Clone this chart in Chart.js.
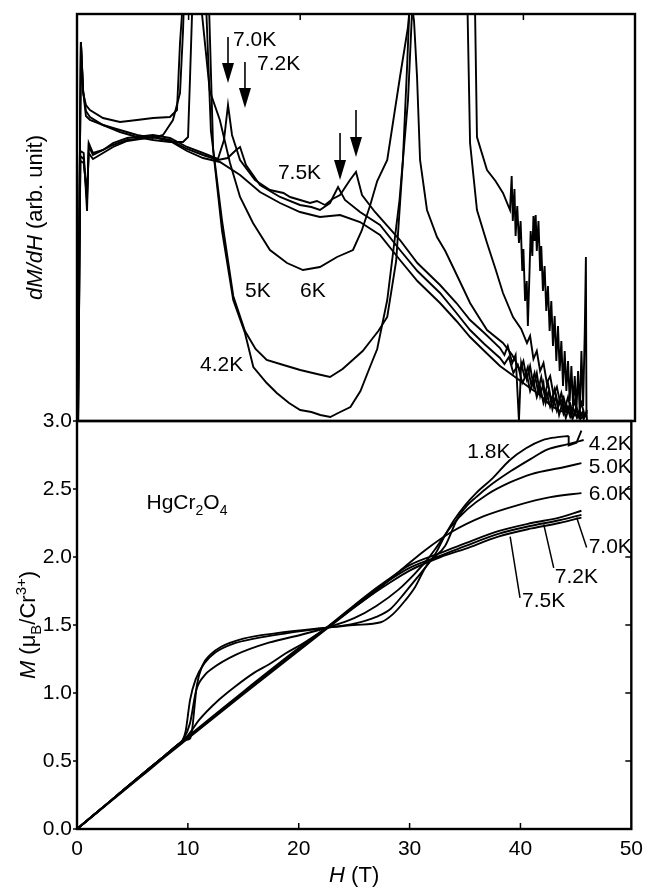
<!DOCTYPE html>
<html>
<head>
<meta charset="utf-8">
<script src="https://cdn.jsdelivr.net/npm/chart.js@4.4.0/dist/chart.umd.min.js"></script>
<style>
  html, body { margin: 0; padding: 0; background: #fff; }
  #wrap { position: relative; width: 651px; height: 892px; }
  #wrap canvas { position: absolute; left: 0; top: 0; }
</style>
</head>
<body>
<div id="wrap">
  <canvas id="dmdh" width="651" height="892"></canvas>
  <canvas id="mag" width="651" height="892"></canvas>
</div>
<script>
const FONT = '"Liberation Sans", Arial, Helvetica, sans-serif';

// ---- top panel: dM/dH (arb. unit) vs H (T) ----
const dH42 = [0.05,0.35,0.55,0.8,1.16,2.33,3.85,5.38,6.81,8.33,9.5,9.95,10.13,10.3,10.5,11.6,11.85,12.2,13.0,14.0,15.05,15.8,17.0,17.9,19.0,20.0,21.0,21.8,22.7,23.4,24.5,25.4,26.25,26.9,27.8,28.9,29.66,30.0,30.3,34.8,35.0,35.22,35.84,36.74,37.5,38.17,39.07,39.8,40.32,40.6,40.9,41.2,41.5,41.8,42.1,42.4,42.7,43.0,43.3,43.6,43.9,44.2,44.5,44.8,45.1,45.5];
const dV42 = [0,379,330,305,301,296,289,284,281,279,279,284,344,404,460,460,407,271,190,121,88,54,38,28,18,11,9,6,4,8,14,30,54,72,121,221,321,404,460,460,407,278,211,178,152,128,104,92,78,85,62,70,50,58,38,45,26,34,18,24,10,17,5,12,2,6];

const dH50 = [0.05,0.35,0.55,0.8,1.16,2.33,3.85,5.38,6.81,7.71,8.6,9.23,9.5,9.7,11.4,11.6,12.0,13.0,14.0,15.05,16.0,17.0,18.5,20.0,21.5,22.67,23.8,24.7,25.6,26.3,27.0,27.8,28.6,29.2,29.6,29.95,35.6,35.84,36.74,37.5,38.17,38.8,38.95,39.05,39.2,39.3,39.45,39.6,39.75,39.9,40.0,40.15,40.3,40.4,40.55,40.65,40.8,40.9,41.0,41.1,41.2,41.35,41.5,41.6,41.75,41.9,42.05,42.2,42.35,42.5,42.65,42.8,42.95,43.1,43.25,43.4,43.55,43.7,43.85,44.0,44.15,44.3,44.45,44.6,44.75,44.9,45.05,45.2,45.35,45.5,45.6,45.65,45.7];
const dV50 = [0,379,330,310,304,296,291,286,283,286,301,328,390,460,460,407,290,200,125,90,72,61,56,51,47,44,52,61,70,80,90,104,160,260,360,460,460,284,251,240,228,211,245,200,232,185,215,178,200,150,172,120,140,95,150,190,165,205,180,206,170,200,150,175,130,155,110,135,90,120,75,105,60,95,50,80,35,70,30,60,20,55,15,45,10,50,8,70,15,90,164,10,0];

const dH60 = [0.05,0.35,0.55,0.8,1.16,2.33,3.85,5.38,6.81,8.33,8.96,9.23,9.41,9.6,10.9,11.2,11.9,12.8,13.71,14.61,15.77,17.29,18.82,20.25,21.77,23.3,24.73,25.5,26.25,26.9,27.8,28.94,29.66,29.9,30.2,30.47,30.74,31.36,32.26,33.0,33.69,34.5,35.22,36.0,36.74,38.17,39.0,39.7,40.0,40.3,40.6,40.9,41.2,41.5,41.8,42.0,42.3,42.6,42.9,43.2,43.5,43.8,44.1,44.4,44.7,45.0,45.3,45.5];
const dV60 = [0,379,328,316,311,303,299,301,303,304,311,378,407,460,460,407,330,301,258,224,198,171,158,151,154,164,171,190,215,240,261,344,394,425,400,344,261,211,184,170,154,135,118,104,91,78,66,51,60,42,55,35,48,25,38,18,30,12,25,6,18,3,14,2,12,3,9,4];

const dH70 = [0.1,0.3,0.6,0.9,1.05,1.43,2.33,3.23,4.5,6.81,8.33,9.86,11.29,12.63,13.17,13.53,13.89,14.61,15.95,17.29,18.5,19.09,20.0,20.88,21.5,22.22,22.9,23.57,24.46,25.0,25.54,26.7,28.94,30.5,32.53,34.0,35.22,36.5,37.9,38.3,38.6,39.0,39.3,39.6,39.8,40.1,40.4,40.7,41.0,41.3,41.6,41.9,42.2,42.5,42.8,43.1,43.4,43.7,44.0,44.3,44.6,44.9,45.2,45.5,45.7];
const dV70 = [0,270,268,210,278,268,271,278,283,286,283,274,268,262,281,316,286,261,241,231,228,224,221,218,220,216,222,226,241,249,226,209,181,158,136,118,101,88,73,66,75,58,66,0,58,44,54,36,48,30,44,26,38,20,32,16,28,12,24,8,20,6,18,5,11];

const dH72 = [0.1,0.3,0.6,0.9,1.05,1.43,3.23,4.5,6.81,8.33,9.86,11.29,12.63,13.5,14.25,14.61,15.14,16.4,18.19,19.98,21.0,21.77,22.67,23.39,24.01,25.36,27.15,28.94,30.5,32.53,34.0,35.22,36.5,37.9,38.3,38.7,39.1,39.5,39.9,40.3,40.6,40.9,41.2,41.5,41.8,42.1,42.4,42.7,43.0,43.3,43.6,43.9,44.2,44.5,44.8,45.1,45.4,45.7];
const dV72 = [0,265,262,220,275,266,276,281,284,281,272,266,261,263,271,274,256,236,224,216,214,211,218,234,221,209,196,171,150,128,108,91,77,63,57,64,48,56,38,47,30,40,24,34,18,28,14,22,10,20,7,15,4,12,3,9,2,9];

const dH75 = [0.1,0.3,0.6,0.9,1.05,1.43,3.23,4.5,6.81,8.33,9.86,11.29,12.81,14.61,16.4,18.19,19.98,21.77,23.57,25.36,27.15,28.94,30.5,32.53,34.0,35.22,36.5,37.9,39.5,40.59,41.5,42.38,43.28,44.0,44.8,45.7];
const dV75 = [0,260,258,228,268,262,274,280,284,280,270,263,259,246,229,218,209,204,206,199,186,161,140,118,100,84,70,55,42,33,26,16,10,9,6,5];

// curve labels and arrows in the top panel (H, arb. unit)
const topLabels = ['7.0K', '7.2K', '7.5K', '5K', '6K', '4.2K'];
const topLabelH = [13.98, 16.13, 18.0, 15.05, 19.98, 11.02];
const topLabelV = [375, 351, 242, 124, 124, 50];
const arrowH = [13.53, 15.05, 23.57, 25.0];
const arrowTail = [384, 359, 288, 311];
const arrowTip = [338, 313, 241, 264];

// ---- bottom panel: M (muB/Cr3+) vs H (T) ----
const mH18 = [0,3,6,8,9,9.8,10.2,10.4,10.6,10.8,11.3,12,13,15,18,22.5,25,27.4,28.5,29.6,30.5,31.4,32.3,33.2,34,35,36,37.5,39,40.5,42,43.2,44.35];
const mM18 = [0,0.205,0.41,0.545,0.61,0.655,0.665,0.74,0.90,1.05,1.20,1.28,1.34,1.40,1.44,1.48,1.50,1.52,1.58,1.68,1.78,1.92,2.02,2.16,2.27,2.38,2.47,2.58,2.71,2.80,2.86,2.88,2.89];
const tailH18 = [44.35, 44.35, 45.05, 45.5];
const tailM18 = [2.89, 2.82, 2.84, 2.93];

const mH42 = [0,3,6,8,9,9.5,9.8,10.2,10.7,11.5,12.5,14,16,19,22.5,25,27,28.3,29.6,31,32,33.2,34.3,35.2,36,37,39.1,40.9,42.4,44.3,45.7];
const mM42 = [0,0.205,0.41,0.545,0.615,0.65,0.72,0.95,1.10,1.22,1.30,1.36,1.40,1.44,1.48,1.51,1.56,1.62,1.74,1.88,1.98,2.08,2.28,2.38,2.44,2.51,2.63,2.72,2.79,2.83,2.86];

const mH50 = [0,3,6,8,9,9.6,10.2,10.75,11.5,12.2,14.3,17.3,20.3,22.5,25,27,29,30.5,31.6,32.5,33.7,35.2,37,39.1,41,43.9,45.5];
const mM50 = [0,0.205,0.41,0.545,0.615,0.66,0.78,1.02,1.13,1.18,1.28,1.37,1.43,1.48,1.55,1.64,1.76,1.88,1.98,2.08,2.22,2.35,2.46,2.55,2.61,2.66,2.69];

const mH60 = [0,3,6,8,9,9.8,10.3,11,12.8,14.3,16,17.3,18.8,20.3,22.5,25,27,28.3,29.6,31.4,33.7,36.7,39.7,42.7,45.5];
const mM60 = [0,0.205,0.41,0.545,0.615,0.67,0.72,0.80,0.95,1.05,1.15,1.21,1.29,1.36,1.48,1.63,1.75,1.84,1.93,2.05,2.18,2.30,2.38,2.44,2.47];

const mH7x = [0,3,6,8,10,15,20,22.5,26,28,30,32.8,35,38,41,43.5,45.5];
const mM70 = [0,0.205,0.41,0.545,0.68,1.01,1.33,1.48,1.71,1.83,1.94,2.03,2.10,2.19,2.25,2.29,2.34];
const mM72 = [0,0.203,0.405,0.54,0.67,1.0,1.32,1.475,1.70,1.82,1.92,2.01,2.08,2.17,2.23,2.27,2.31];
const mM75 = [0,0.2,0.4,0.535,0.665,0.99,1.31,1.47,1.69,1.80,1.90,2.00,2.06,2.15,2.21,2.25,2.29];

const botLabels = ['1.8K', '4.2K', '5.0K', '6.0K', '7.0K', '7.2K', '7.5K'];
const botLabelH = [35.2, 46.15, 46.15, 46.15, 46.15, 43.1, 40.14];
const botLabelM = [2.73, 2.79, 2.62, 2.42, 2.03, 1.81, 1.63];
// leader lines from 7.x curves to their labels
const leadH1 = [45.07, 42.1, 39.07], leadM1 = [2.29, 2.24, 2.15];
const leadH2 = [45.97, 43.0, 39.96], leadM2 = [2.07, 1.92, 1.70];

const hTicks = [0, 10, 20, 30, 40, 50];
const mTicks = [0, 0.5, 1.0, 1.5, 2.0, 2.5, 3.0];

function pts(xs, ys) {
  return xs.map((x, i) => ({ x: x, y: ys[i] }));
}

function line(xs, ys, smooth) {
  return {
    data: pts(xs, ys),
    borderColor: '#000',
    borderWidth: 1.9,
    pointRadius: 0,
    fill: false,
    tension: 0,
    cubicInterpolationMode: smooth ? 'monotone' : 'default'
  };
}

// draws runs of text with italic / sub / sup parts
function richText(ctx, runs, x, y, size, align) {
  let w = 0;
  const parts = runs.map(r => {
    const small = r.s === 'sub' || r.s === 'sup';
    const f = (r.i ? 'italic ' : '') + (small ? Math.round(size * 0.68) : size) + 'px ' + FONT;
    ctx.font = f;
    const pw = ctx.measureText(r.t).width;
    w += pw;
    return { t: r.t, f: f, pw: pw, dy: r.s === 'sub' ? size * 0.28 : r.s === 'sup' ? -size * 0.42 : 0 };
  });
  let cx = align === 'center' ? x - w / 2 : x;
  ctx.textAlign = 'left';
  ctx.textBaseline = 'alphabetic';
  parts.forEach(p => {
    ctx.font = p.f;
    ctx.fillText(p.t, cx, y + p.dy);
    cx += p.pw;
  });
}

const framePlugin = {
  id: 'frame',
  afterDatasetsDraw(chart, args, opts) {
    const { ctx, chartArea: a } = chart;
    const xs = chart.scales.x, ys = chart.scales.y;
    ctx.save();
    ctx.strokeStyle = '#000';
    ctx.lineWidth = 2.4;
    ctx.strokeRect(a.left, a.top, a.right - a.left, a.bottom - a.top);
    ctx.lineWidth = 1.5;
    ctx.beginPath();
    (opts.top || []).forEach(v => {
      const x = xs.getPixelForValue(v);
      ctx.moveTo(x, a.top); ctx.lineTo(x, a.top + 6);
    });
    (opts.bottom || []).forEach(v => {
      const x = xs.getPixelForValue(v);
      ctx.moveTo(x, a.bottom); ctx.lineTo(x, a.bottom - 6);
    });
    (opts.right || []).forEach(v => {
      const y = ys.getPixelForValue(v);
      ctx.moveTo(a.right, y); ctx.lineTo(a.right - 6, y);
    });
    (opts.left || []).forEach(v => {
      const y = ys.getPixelForValue(v);
      ctx.moveTo(a.left, y); ctx.lineTo(a.left - 4, y);
    });
    ctx.stroke();
    ctx.restore();
  }
};

const topNotes = {
  id: 'topNotes',
  afterDraw(chart) {
    const { ctx } = chart;
    const xs = chart.scales.x, ys = chart.scales.y;
    ctx.save();
    ctx.fillStyle = '#000';
    ctx.strokeStyle = '#000';
    ctx.font = '21px ' + FONT;
    ctx.textAlign = 'left';
    ctx.textBaseline = 'alphabetic';
    topLabels.forEach((t, i) => {
      ctx.fillText(t, xs.getPixelForValue(topLabelH[i]), ys.getPixelForValue(topLabelV[i]));
    });
    arrowH.forEach((h, i) => {
      const x = xs.getPixelForValue(h);
      const y0 = ys.getPixelForValue(arrowTail[i]);
      const y1 = ys.getPixelForValue(arrowTip[i]);
      ctx.lineWidth = 1.6;
      ctx.beginPath();
      ctx.moveTo(x, y0); ctx.lineTo(x, y1 - 18);
      ctx.stroke();
      ctx.beginPath();
      ctx.moveTo(x - 6, y1 - 20); ctx.lineTo(x + 6, y1 - 20); ctx.lineTo(x, y1);
      ctx.closePath();
      ctx.fill();
    });
    // y title
    ctx.translate(42, (chart.chartArea.top + chart.chartArea.bottom) / 2);
    ctx.rotate(-Math.PI / 2);
    richText(ctx, [{ t: 'dM/dH', i: true }, { t: ' (arb. unit)' }], 0, 0, 22, 'center');
    ctx.restore();
  }
};

const botNotes = {
  id: 'botNotes',
  afterDraw(chart) {
    const { ctx, chartArea: a } = chart;
    const xs = chart.scales.x, ys = chart.scales.y;
    ctx.save();
    ctx.fillStyle = '#000';
    ctx.strokeStyle = '#000';
    ctx.font = '21px ' + FONT;
    ctx.textAlign = 'left';
    ctx.textBaseline = 'alphabetic';
    botLabels.forEach((t, i) => {
      ctx.fillText(t, xs.getPixelForValue(botLabelH[i]), ys.getPixelForValue(botLabelM[i]));
    });
    ctx.lineWidth = 1.5;
    ctx.beginPath();
    leadH1.forEach((h, i) => {
      ctx.moveTo(xs.getPixelForValue(h), ys.getPixelForValue(leadM1[i]));
      ctx.lineTo(xs.getPixelForValue(leadH2[i]), ys.getPixelForValue(leadM2[i]));
    });
    ctx.stroke();
    richText(ctx, [{ t: 'HgCr' }, { t: '2', s: 'sub' }, { t: 'O' }, { t: '4', s: 'sub' }],
      xs.getPixelForValue(6.27), ys.getPixelForValue(2.35), 21, 'left');
    richText(ctx, [{ t: 'H', i: true }, { t: ' (T)' }], (a.left + a.right) / 2, 882, 22, 'center');
    ctx.translate(35, (a.top + a.bottom) / 2);
    ctx.rotate(-Math.PI / 2);
    richText(ctx, [{ t: 'M', i: true }, { t: ' (\u03bc' }, { t: 'B', s: 'sub' }, { t: '/Cr' }, { t: '3+', s: 'sup' }, { t: ')' }], 0, 0, 22, 'center');
    ctx.restore();
  }
};

new Chart(document.getElementById('dmdh'), {
  type: 'line',
  data: {
    datasets: [
      line(dH42, dV42), line(dH50, dV50), line(dH60, dV60),
      line(dH70, dV70), line(dH72, dV72), line(dH75, dV75)
    ]
  },
  options: {
    responsive: false,
    animation: false,
    devicePixelRatio: 1,
    events: [],
    layout: { padding: { left: 77, right: 16, top: 14, bottom: 471 } },
    plugins: {
      legend: { display: false },
      tooltip: { enabled: false },
      frame: { top: [10, 20, 30, 40] }
    },
    scales: {
      x: { type: 'linear', min: 0, max: 50, display: false },
      y: { type: 'linear', min: 0, max: 407, display: false }
    }
  },
  plugins: [framePlugin, topNotes]
});

new Chart(document.getElementById('mag'), {
  type: 'line',
  data: {
    datasets: [
      line(mH18, mM18, true), line(tailH18, tailM18), line(mH42, mM42, true),
      line(mH50, mM50, true), line(mH60, mM60, true),
      line(mH7x, mM70, true), line(mH7x, mM72, true), line(mH7x, mM75, true)
    ]
  },
  options: {
    responsive: false,
    animation: false,
    devicePixelRatio: 1,
    events: [],
    layout: { padding: { left: 0, right: 16, top: 421, bottom: 0 } },
    plugins: {
      legend: { display: false },
      tooltip: { enabled: false },
      frame: { bottom: [10, 20, 30, 40], right: [0.5, 1.0, 1.5, 2.0, 2.5], left: mTicks }
    },
    scales: {
      x: {
        type: 'linear', min: 0, max: 50,
        grid: { display: false, drawTicks: false },
        border: { display: false },
        afterBuildTicks: s => { s.ticks = hTicks.map(v => ({ value: v })); },
        ticks: { color: '#000', font: { family: FONT, size: 21 }, padding: 8, maxRotation: 0 },
        afterFit: s => { s.height = 63; }
      },
      y: {
        type: 'linear', min: 0, max: 3,
        grid: { display: false, drawTicks: false },
        border: { display: false },
        afterBuildTicks: s => { s.ticks = mTicks.map(v => ({ value: v })); },
        ticks: { color: '#000', font: { family: FONT, size: 21 }, padding: 5, callback: v => v.toFixed(1) },
        afterFit: s => { s.width = 77; }
      }
    }
  },
  plugins: [framePlugin, botNotes]
});
</script>
</body>
</html>
